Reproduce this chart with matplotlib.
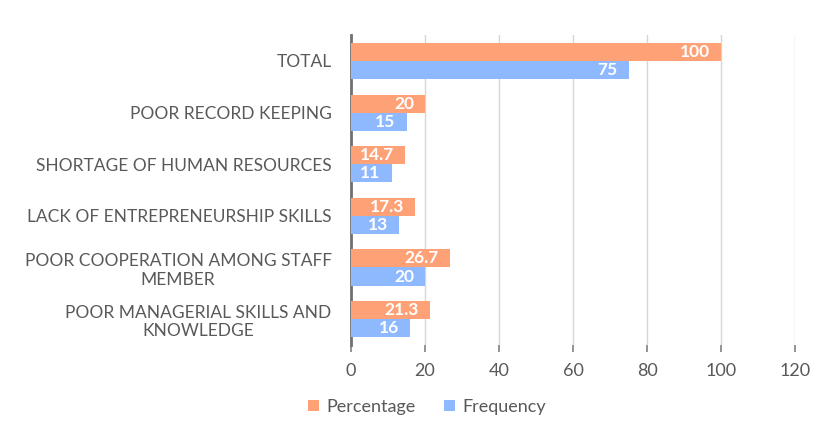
import matplotlib.pyplot as plt
import numpy as np

categories = [
    "POOR MANAGERIAL SKILLS AND\nKNOWLEDGE",
    "POOR COOPERATION AMONG STAFF\nMEMBER",
    "LACK OF ENTREPRENEURSHIP SKILLS",
    "SHORTAGE OF HUMAN RESOURCES",
    "POOR RECORD KEEPING",
    "TOTAL",
]
percentage = [21.3, 26.7, 17.3, 14.7, 20, 100]
frequency = [16, 20, 13, 11, 15, 75]
x_ticks = [0, 20, 40, 60, 80, 100, 120]

plt.rcParams["font.family"] = ["Lato", "DejaVu Sans"]

fig = plt.figure(figsize=(8.24, 4.29), dpi=100)
ax = fig.add_axes([0.426, 0.196, 0.539, 0.722])

y = np.arange(len(categories))
h = 0.35
orange = "#ffa177"
blue = "#8fb9ff"
bars_p = ax.barh(y + h / 2, percentage, height=h, color=orange, label="Percentage", zorder=3)
bars_f = ax.barh(y - h / 2, frequency, height=h, color=blue, label="Frequency", zorder=3)

for bars, vals in ((bars_p, percentage), (bars_f, frequency)):
    for bar, v in zip(bars, vals):
        ax.annotate(f"{v:g}", (bar.get_width(), bar.get_y() + bar.get_height() / 2),
                    xytext=(-8, 0), textcoords="offset points", ha="right", va="center",
                    color="white", fontweight="bold", fontsize=12.5, zorder=4)

ax.set_xlim(0, 120)
ax.set_ylim(-0.5, len(categories) - 0.5)
ax.set_xticks(x_ticks)
ax.set_yticks(y)
ax.set_yticklabels(categories, multialignment="center")
ax.tick_params(axis="y", length=0, pad=14, labelsize=12.5, labelcolor="#595959")
ax.tick_params(axis="x", length=5, width=1.2, color="#808080", pad=8, labelsize=13, labelcolor="#595959")
ax.grid(axis="x", color="#d6d6d6", linewidth=1, zorder=0)

for side in ("top", "right", "bottom"):
    ax.spines[side].set_visible(False)
ax.spines["left"].set_color("#707070")
ax.spines["left"].set_linewidth(2)

fig.legend(loc="center", bbox_to_anchor=(0.518, 0.052), ncol=2, frameon=False,
           fontsize=13, labelcolor="#595959", handlelength=0.6, handleheight=0.6,
           handletextpad=0.4, columnspacing=1.6)

fig.savefig("out.png", dpi=100)
